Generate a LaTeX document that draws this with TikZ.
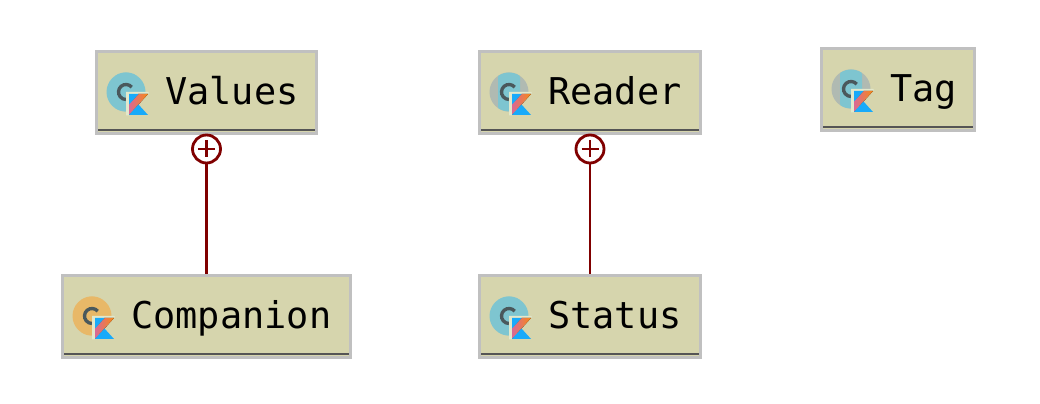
\documentclass[tikz,border=0pt]{standalone}
\usepackage{fontspec}
\setmonofont{DejaVu Sans Mono}
\usetikzlibrary{positioning, calc}
\definecolor{boxfill}{RGB}{214, 213, 173}
\definecolor{boxedge}{RGB}{192, 192, 192}
\definecolor{boxrule}{RGB}{85, 85, 85}
\definecolor{nestred}{RGB}{128, 0, 0}
\definecolor{iconcyan}{RGB}{126, 197, 208}
\definecolor{icongray}{RGB}{176, 186, 178}
\definecolor{iconorange}{RGB}{232, 184, 104}
\definecolor{iconletter}{RGB}{74, 88, 92}
\definecolor{kpale}{RGB}{226, 232, 204}
\definecolor{kblue}{RGB}{24, 170, 250}
\definecolor{korange}{RGB}{248, 138, 20}
\definecolor{kpink}{RGB}{216, 104, 150}
\tikzset{
  classbox/.style={draw=boxedge, fill=boxfill, line width=1.6pt, minimum height=81.5*0.02cm, inner sep=0pt},
  classname/.style={anchor=base west, inner sep=0pt, font=\ttfamily\fontsize{21}{21}\selectfont},
  nestplus/.style={draw=nestred, fill=white, circle, line width=1.6pt, minimum size=28*0.02cm, inner sep=0pt,
    path picture={\draw[nestred, line width=1.6pt]
      ($(path picture bounding box.center)+(-8.5,0)$) -- ($(path picture bounding box.center)+(8.5,0)$)
      ($(path picture bounding box.center)+(0,-8.5)$) -- ($(path picture bounding box.center)+(0,8.5)$);}},
  nestline/.style={draw=nestred, line width=1.6pt}
}
% class icon with the small Kotlin mark
\newcommand{\classicon}[4]{
  \fill[#3] (#1,#2) circle (19.5);
  \begin{scope}
    \clip (#1,#2) circle (19.5);
    \fill[#4, rounded corners=3] (#1-11,#2-20) rectangle (#1+11,#2+20);
  \end{scope}
  \draw[iconletter, line width=1.9pt] ($(#1,#2)+(-40:7.5)$) arc[start angle=-40, end angle=-270, radius=7.5];
  \fill[kpale] (#1,#2) -- (#1+22.5,#2) -- (#1+22.5,#2+2) -- (#1+3,#2+2) -- (#1+3,#2+23.5) -- (#1,#2+23.5) -- cycle;
  \fill[boxfill] (#1+3,#2+2) rectangle (#1+22,#2+23);
  \fill[left color=kpink, right color=korange] (#1+12.5,#2+2) -- (#1+22,#2+2) -- (#1+3,#2+23) -- (#1+3,#2+12.5) -- cycle;
  \fill[kblue] (#1+3,#2+2) -- (#1+12.5,#2+2) -- (#1+3,#2+12.5) -- cycle;
  \fill[kblue] (#1+3,#2+23) -- (#1+12.5,#2+12.5) -- (#1+22,#2+23) -- cycle;
}

\begin{document}
\begin{tikzpicture}[x=0.02cm, y=-0.02cm]
  \useasboundingbox (0,0) rectangle (1040,404);
  % Classes
  \foreach \n/\t/\x/\y/\w/\c/\b in {values/Values/95/92/223/iconcyan/iconcyan,
      reader/Reader/478/92/224/icongray/iconcyan,
      tag/Tag/820/89/156/icongray/iconcyan,
      companion/Companion/61/316/291/iconorange/iconorange,
      status/Status/478/316/224/iconcyan/iconcyan} {
    \node[classbox, minimum width=\w*0.02cm-1.6pt] (\n) at (\x+\w/2,\y+0.5) {};
    \draw[boxrule, line width=1.4pt] (\x+3,\y+38) -- (\x+\w-3,\y+38);
    \classicon{\x+31}{\y}{\c}{\b}
    \node[classname] (\n name) at (\x+70,\y+13) {\t};
  }
  % Nesting marks
  \node[nestplus] (valuesplus) at (206.5,149) {};
  \node[nestplus] (readerplus) at (590,149) {};
  \draw[nestline] (valuesplus) -- (companion);
  \draw[nestline] (readerplus) -- (status);
\end{tikzpicture}
\end{document}
